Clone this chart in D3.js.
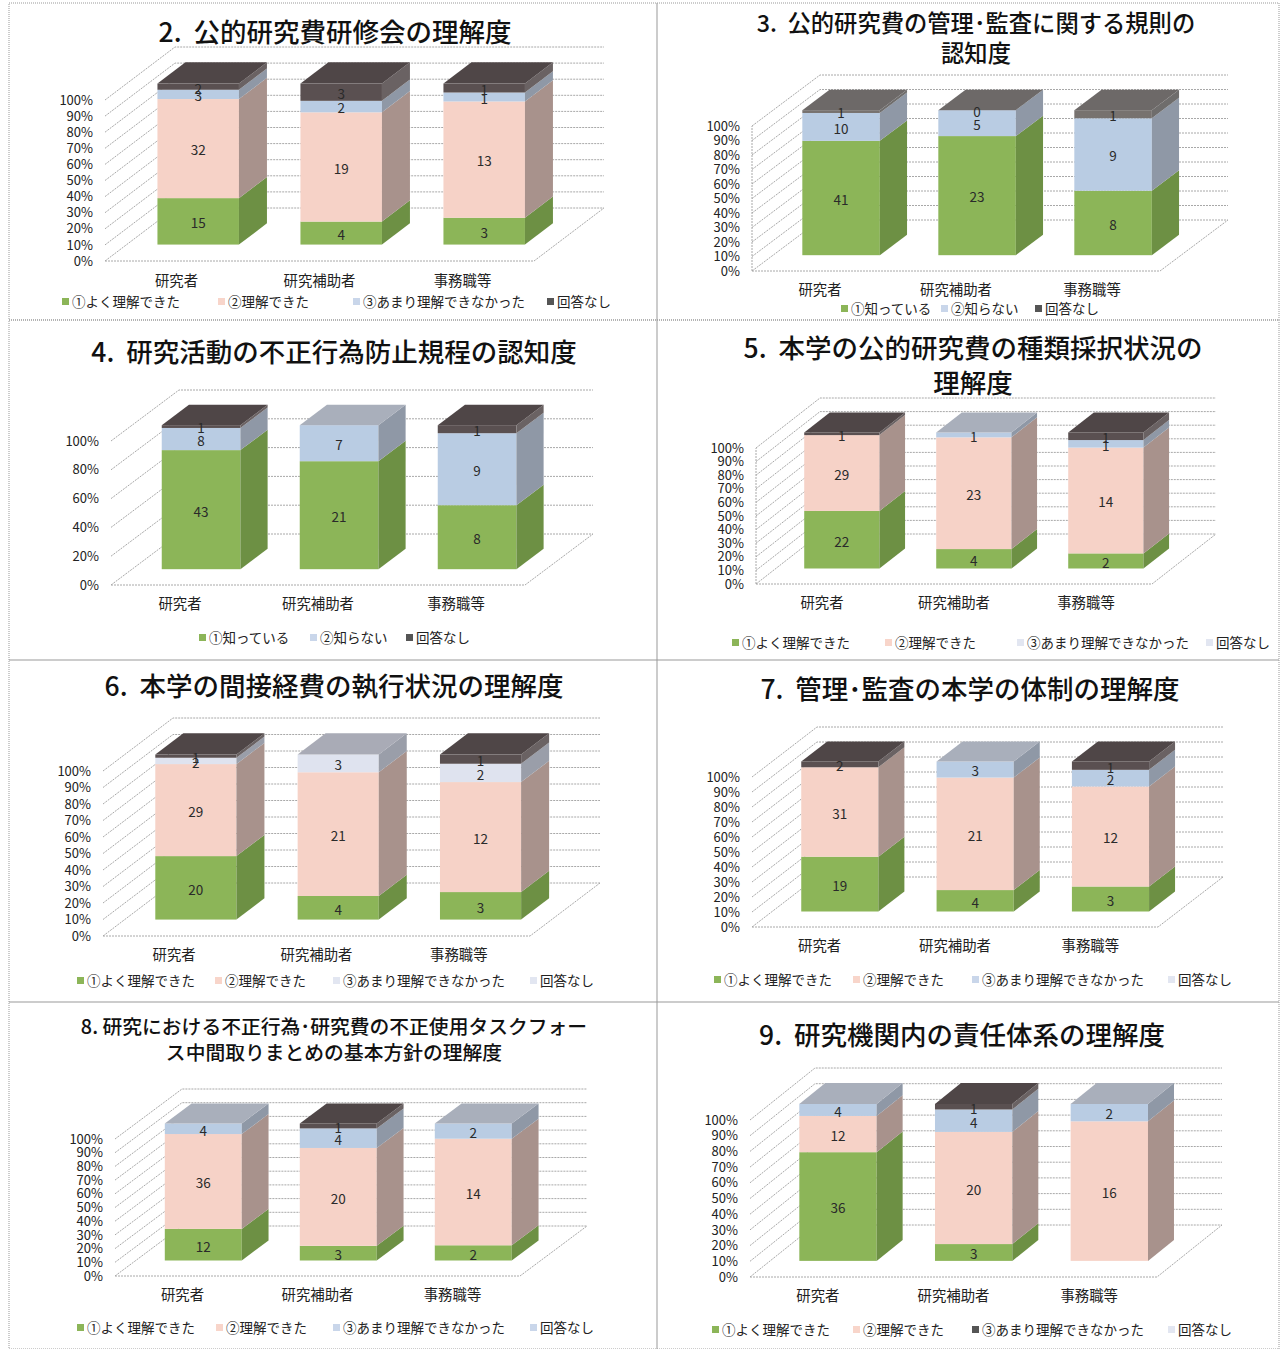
<!DOCTYPE html>
<meta charset="utf-8">
<head>
<style>
body { margin: 0; background: #fff; }
text { font-family: "Noto Sans CJK JP", sans-serif; fill: #222; }
.grid { fill: none; stroke: #a8a8a8; stroke-width: 1; stroke-dasharray: 2,1; }
.frame { fill: none; stroke: #999; stroke-width: 1; stroke-dasharray: 1,1; }
</style>
</head>
<body>
<script src="https://cdnjs.cloudflare.com/ajax/libs/d3/7.8.5/d3.min.js"></script>
<script>
//------------------------1. DATA------------------------//
var cats = ["研究者", "研究補助者", "事務職等"];
var legend4 = ["①よく理解できた", "②理解できた", "③あまり理解できなかった", "回答なし"];
var legend3 = ["①知っている", "②知らない", "回答なし"];
var ticks10 = [0, .1, .2, .3, .4, .5, .6, .7, .8, .9, 1];
var ticks20 = [0, .2, .4, .6, .8, 1];

// one row per category, one column per series. null = no label on the bar
var q2 = [[15, 32, 3, 2], [4, 19, 2, 3], [3, 13, 1, 1]];
var q3 = [[41, 10, 1], [23, 5, 0], [8, 9, 1]];
var q4 = [[43, 8, 1], [21, 7, null], [8, 9, 1]];
var q5 = [[22, 29, null, 1], [4, 23, 1, null], [2, 14, 1, 1]];
var q6 = [[20, 29, 2, 1], [4, 21, 3, null], [3, 12, 2, 1]];
var q7 = [[19, 31, null, 2], [4, 21, 3, null], [3, 12, 2, 1]];
var q8 = [[12, 36, 4, null], [3, 20, 4, 1], [2, 14, 2, null]];
var q9 = [[36, 12, 4, null], [3, 20, 4, 1], [null, 16, 2, null]];

//------------------------2. STYLE-----------------------//
var green = { front: "#8cb558", side: "#6d9044", top: "#7fa650" };
var pink = { front: "#f6d2c7", side: "#a8928c", top: "#d8bcb3" };
var blue = { front: "#b9cce3", side: "#8f98a6", top: "#a9afbb" };
var pale = { front: "#dfe3ef", side: "#9a9ea9", top: "#a9abb6" };
var dark = { front: "#5a5051", side: "#6a6263", top: "#4f4647" };
var gray = { front: "#77726f", side: "#6f6d6c", top: "#6d6968" };
var swGreen = "#8cb558", swPink = "#f8d5ca", swBlue = "#c9d6ea", swPale = "#e2e6f1", swDark = "#555";

var panels = [
  { data: q2, names: legend4, fills: [green, pink, blue, dark], swatches: [swGreen, swPink, swBlue, swDark], ticks: ticks10,
    title: ["2.\u00a0 公的研究費研修会の理解度"], titleX: 335, titleY: [32], titleSize: 26.5,
    x0: 105, y0: 261, y100: 100, dx: 70, dy: 53, w: 429, catY: 281, legY: 302,
    legX: [62, 218, 353, 547], box: [9, 3, 648, 317] },
  { data: q3, names: legend3, fills: [green, blue, gray], swatches: [swGreen, swBlue, swDark], ticks: ticks10,
    title: ["3.\u00a0 公的研究費の管理･監査に関する規則の", "認知度"], titleX: 976, titleY: [24, 54], titleSize: 23.3,
    x0: 752, y0: 271, y100: 126, dx: 68, dy: 51, w: 408, catY: 290, legY: 309, vline: true,
    legX: [841, 941, 1035], box: [657, 3, 622, 317] },
  { data: q4, names: legend3, fills: [green, blue, dark], swatches: [swGreen, swBlue, swDark], ticks: ticks20,
    title: ["4.\u00a0 研究活動の不正行為防止規程の認知度"], titleX: 334, titleY: [352], titleSize: 26.5,
    x0: 111, y0: 585, y100: 441, dx: 68, dy: 51, w: 414, catY: 604, legY: 638,
    legX: [199, 310, 406], box: [9, 320, 648, 340] },
  { data: q5, names: legend4, fills: [green, pink, blue, dark], swatches: [swGreen, swPink, swPale, swPale], ticks: ticks10,
    title: ["5.\u00a0 本学の公的研究費の種類採択状況の", "理解度"], titleX: 973, titleY: [348, 383], titleSize: 26.5,
    x0: 756, y0: 584, y100: 448, dx: 64, dy: 50, w: 396, catY: 603, legY: 643, vline: true,
    legX: [732, 885, 1017, 1206], box: [657, 320, 622, 340] },
  { data: q6, names: legend4, fills: [green, pink, pale, dark], swatches: [swGreen, swPink, swPale, swPale], ticks: ticks10,
    title: ["6.\u00a0 本学の間接経費の執行状況の理解度"], titleX: 334, titleY: [686], titleSize: 26.5,
    x0: 103, y0: 936, y100: 771, dx: 70, dy: 53, w: 427, catY: 955, legY: 981,
    legX: [77, 215, 333, 530], box: [9, 660, 648, 342] },
  { data: q7, names: legend4, fills: [green, pink, blue, dark], swatches: [swGreen, swPink, swBlue, swPale], ticks: ticks10,
    title: ["7.\u00a0 管理･監査の本学の体制の理解度"], titleX: 970, titleY: [689], titleSize: 26.5,
    x0: 752, y0: 927, y100: 777, dx: 65, dy: 50, w: 406, catY: 946, legY: 980,
    legX: [714, 853, 972, 1168], box: [657, 660, 622, 342] },
  { data: q8, names: legend4, fills: [green, pink, blue, dark], swatches: [swGreen, swPink, swBlue, swBlue], ticks: ticks10,
    title: ["8. 研究における不正行為･研究費の不正使用タスクフォー", "ス中間取りまとめの基本方針の理解度"], titleX: 334, titleY: [1027, 1053], titleSize: 19.8,
    x0: 115, y0: 1276, y100: 1139, dx: 67, dy: 50, w: 405, catY: 1295, legY: 1328,
    legX: [77, 216, 333, 530], box: [9, 1002, 648, 347] },
  { data: q9, names: legend4, fills: [green, pink, blue, dark], swatches: [swGreen, swPink, swDark, swPale], ticks: ticks10,
    title: ["9.\u00a0 研究機関内の責任体系の理解度"], titleX: 962, titleY: [1035], titleSize: 26.5,
    x0: 750, y0: 1277, y100: 1120, dx: 65, dy: 52, w: 407, catY: 1296, legY: 1330,
    legX: [712, 853, 972, 1168], box: [657, 1002, 622, 347] }
];

var gapDepth = 0.31;   // floor in front of the bars, share of the wall depth
var barDepth = 0.40;   // bar depth, share of the wall depth

//------------------------3. DRAWING---------------------//
var svg = d3.select("body").append("svg")
    .attr("width", 1281)
    .attr("height", 1349);

svg.append("rect").attr("width", 1281).attr("height", 1349).attr("fill", "#fff");

panels.forEach(drawPanel);

function drawPanel(p) {
    var g = svg.append("g");

    g.append("rect").attr("class", "frame")
        .attr("x", p.box[0]).attr("y", p.box[1])
        .attr("width", p.box[2]).attr("height", p.box[3]);

    // title
    p.title.forEach(function(line, i) {
        g.append("text")
            .attr("x", p.titleX)
            .attr("y", p.titleY[i])
            .attr("dy", "0.36em")
            .attr("text-anchor", "middle")
            .attr("font-size", p.titleSize)
            .attr("font-weight", 500)
            .style("fill", "#111")
            .text(line);
    });

    // scales
    var yScale = d3.scaleLinear().domain([0, 1]).range([p.y0, p.y100]);
    var xScale = d3.scaleBand().domain(cats)
        .range([p.x0, p.x0 + p.w])
        .paddingInner(0.43)
        .paddingOuter(0.215);

    // walls and floor
    var walls = g.append("g");
    p.ticks.forEach(function(t) {
        var y = yScale(t);
        walls.append("path").attr("class", "grid")
            .attr("d", d3.line()([[p.x0, y], [p.x0 + p.dx, y - p.dy], [p.x0 + p.dx + p.w, y - p.dy]]));
    });
    walls.append("path").attr("class", "grid")
        .attr("d", d3.line()([[p.x0, p.y0], [p.x0 + p.w, p.y0], [p.x0 + p.w + p.dx, p.y0 - p.dy]]));
    if (p.vline) {
        walls.append("path").attr("class", "grid")
            .attr("d", d3.line()([[p.x0, p.y0], [p.x0, p.y100]]));
    }

    // axes
    var yAxis = d3.axisLeft(yScale)
        .tickValues(p.ticks)
        .tickFormat(d3.format(".0%"))
        .tickSize(0)
        .tickPadding(12);
    g.append("g").attr("transform", "translate(" + p.x0 + ",0)").call(yAxis)
        .call(styleAxis, 13);

    var xAxis = d3.axisBottom(xScale).tickSize(0).tickPadding(0);
    g.append("g").attr("transform", "translate(0," + (p.catY - 5) + ")").call(xAxis)
        .call(styleAxis, 14.4);

    // stacked bars
    var keys = p.names.map(function(d, i) { return i; });
    var stack = d3.stack()
        .keys(keys)
        .value(function(row, k) { return row[k] || 0; })
        .offset(d3.stackOffsetExpand);
    var layers = stack(p.data);

    var offX = p.dx * gapDepth, offY = p.dy * gapDepth;
    var sideX = p.dx * barDepth, sideY = p.dy * barDepth;
    var line = d3.line();

    p.data.forEach(function(row, c) {
        var left = xScale(cats[c]) + offX;
        var right = left + xScale.bandwidth();
        var bar = g.append("g");
        var last = d3.max(keys.filter(function(k) { return row[k] !== null; }));

        keys.forEach(function(k) {
            if (row[k] === null) return;
            var yA = yScale(layers[k][c][0]) - offY;
            var yB = yScale(layers[k][c][1]) - offY;
            var fill = p.fills[k];

            bar.append("rect")
                .attr("x", left).attr("y", yB)
                .attr("width", right - left).attr("height", yA - yB)
                .attr("fill", fill.front);
            bar.append("path")
                .attr("d", line([[right, yA], [right + sideX, yA - sideY], [right + sideX, yB - sideY], [right, yB]]) + "Z")
                .attr("fill", fill.side);
            if (k === last) {
                bar.append("path")
                    .attr("d", line([[left, yB], [right, yB], [right + sideX, yB - sideY], [left + sideX, yB - sideY]]) + "Z")
                    .attr("fill", fill.top);
            }
        });

        // data labels go on top of all the faces
        keys.forEach(function(k) {
            if (row[k] === null) return;
            bar.append("text")
                .attr("x", (left + right) / 2)
                .attr("y", yScale((layers[k][c][0] + layers[k][c][1]) / 2) - offY + 2)
                .attr("dy", "0.36em")
                .attr("text-anchor", "middle")
                .attr("font-size", 13.5)
                .style("fill", "#2a2a2a")
                .text(row[k]);
        });
    });

    // legend
    p.names.forEach(function(name, i) {
        g.append("rect")
            .attr("x", p.legX[i]).attr("y", p.legY - 4)
            .attr("width", 7).attr("height", 7)
            .attr("fill", p.swatches[i]);
        g.append("text")
            .attr("x", p.legX[i] + 10)
            .attr("y", p.legY)
            .attr("dy", "0.36em")
            .attr("font-size", 13.5)
            .text(name);
    });
}

function styleAxis(sel, size) {
    sel.select(".domain").remove();
    sel.attr("font-size", null).attr("font-family", null);
    sel.selectAll("text")
        .attr("font-size", size)
        .style("fill", "#222");
}
</script>
</body>
</html>
